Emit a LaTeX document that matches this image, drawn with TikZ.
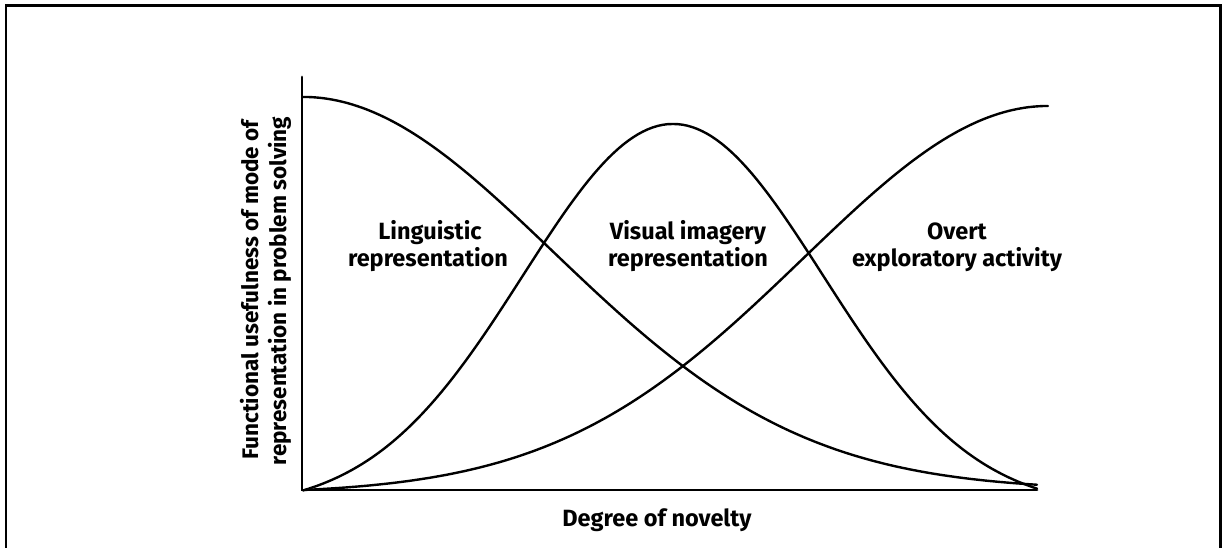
\documentclass[tikz,border=0pt]{standalone}
\usepackage{fontspec}
\setmainfont{Fira Sans}
\begin{document}
\begin{tikzpicture}[x=1pt,y=-1pt,
  curve/.style={line width=2.4pt, line join=round, line cap=round},
  axis/.style={line width=2.8pt, line cap=round},
  frame/.style={line width=2.5pt},
  lab/.style={font=\fontsize{23.5}{27}\selectfont\bfseries, anchor=base, inner sep=0pt},
  ylab/.style={lab, font=\fontsize{22.5}{26}\selectfont\bfseries, rotate=90}]
\useasboundingbox (0,0) rectangle (1224,548);
% open frame around the figure
\draw[frame] (6,552) -- (6,5.5) -- (1220.5,5.5) -- (1220.5,552);

% axes
\coordinate (O) at (302,490);
\coordinate (Ytop) at (302,77);
\coordinate (Xend) at (1037,490);
\draw[axis] (Ytop) -- (O) -- (Xend);

% linguistic representation: falls from the top left
\draw[curve] plot[domain=303:1037, samples=150]
  (\x, {490 - 393*exp(-0.5*((\x-303)/250)^2)});
% visual imagery representation: bell in the middle
\draw[curve] plot[domain=303:1037, samples=150]
  (\x, {490 - 366*(exp(-0.5*((\x-673)/150)^2) - 0.049)/0.951});
% overt exploratory activity: rises toward the right
\draw[curve] plot[domain=305:1048, samples=150]
  (\x, {490 - 384*(exp(-0.5*((\x-1048)/245)^2) - 0.0098)/0.9902});

% curve labels
\node[lab] (ling1) at (430,240) {Linguistic};
\node[lab] (ling2) at (428,267) {representation};
\node[lab] (vis1) at (688,240) {Visual imagery};
\node[lab] (vis2) at (688,267) {representation};
\node[lab] (ov1) at (957,240) {Overt};
\node[lab] (ov2) at (957,267) {exploratory activity};

% axis titles
\node[lab] (xl) at (657,526) {Degree of novelty};
\node[ylab] (yl1) at (258,290) {Functional usefulness of mode of};
\node[ylab] (yl2) at (286,291) {representation in problem solving};
\end{tikzpicture}
\end{document}
